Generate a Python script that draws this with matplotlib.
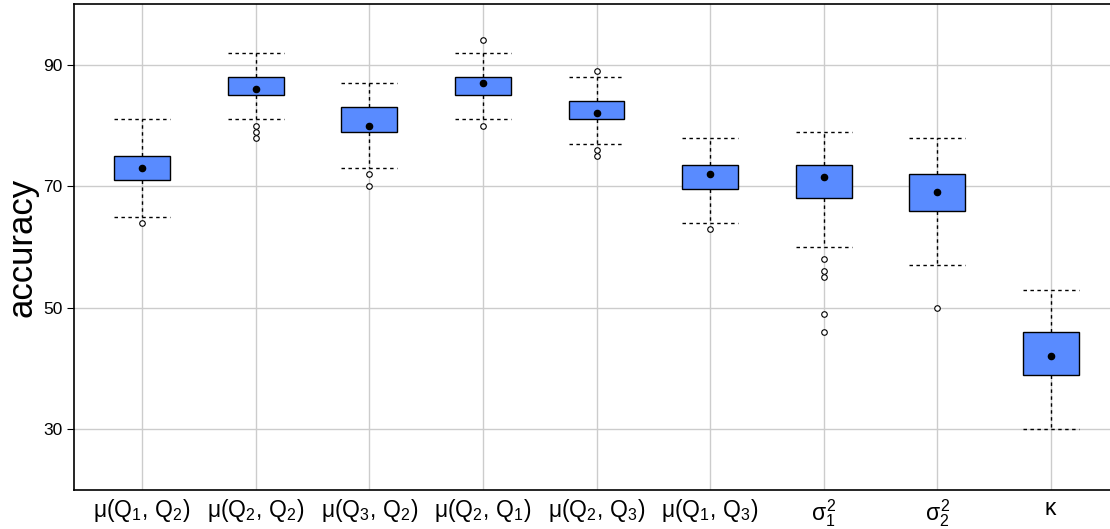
import matplotlib
matplotlib.use("Agg")
import matplotlib.pyplot as plt

plt.rcParams['font.family'] = ['Liberation Sans', 'DejaVu Sans']
plt.rcParams['mathtext.fontset'] = 'custom'
plt.rcParams['mathtext.rm'] = 'Liberation Sans'
plt.rcParams['mathtext.it'] = 'Liberation Sans'
plt.rcParams['mathtext.bf'] = 'Liberation Sans:bold'

labels = [r'$\mu(\mathrm{Q}_1,\,\mathrm{Q}_2)$', r'$\mu(\mathrm{Q}_2,\,\mathrm{Q}_2)$',
          r'$\mu(\mathrm{Q}_3,\,\mathrm{Q}_2)$', r'$\mu(\mathrm{Q}_2,\,\mathrm{Q}_1)$',
          r'$\mu(\mathrm{Q}_2,\,\mathrm{Q}_3)$', r'$\mu(\mathrm{Q}_1,\,\mathrm{Q}_3)$',
          r'$\sigma_1^2$', r'$\sigma_2^2$', r'$\kappa$']
whisker_low = [65, 81, 73, 81, 77, 64, 60, 57, 30]
q1 = [71, 85, 79, 85, 81, 69.5, 68, 66, 39]
median = [73, 86, 80, 87, 82, 72, 71.5, 69, 42]
q3 = [75, 88, 83, 88, 84, 73.5, 73.5, 72, 46]
whisker_high = [81, 92, 87, 92, 88, 78, 79, 78, 53]
outliers = [[64], [80, 79, 78], [72, 70], [94, 80], [89, 76, 75], [63],
            [58, 56, 55, 49, 46], [50], []]
yticks = [30, 50, 70, 90]

fig = plt.figure(figsize=(11.10, 5.29), dpi=100)
ax = fig.add_axes([74/1110, 1 - 490/529, 1045/1110, 486/529])

stats = []
for i in range(len(labels)):
    stats.append(dict(whislo=whisker_low[i], q1=q1[i], med=median[i], q3=q3[i],
                      whishi=whisker_high[i], fliers=outliers[i], label=labels[i]))

positions = list(range(1, len(labels) + 1))
ax.bxp(stats, positions=positions, widths=0.49, patch_artist=True,
       showfliers=True,
       boxprops=dict(facecolor='#598bff', edgecolor='black', linewidth=1.0),
       whiskerprops=dict(color='black', linestyle=(0, (2.5, 2.5)), linewidth=1.0),
       capprops=dict(color='black', linestyle=(0, (2.5, 2.5)), linewidth=1.0),
       capwidths=0.49,
       medianprops=dict(linestyle='none'),
       flierprops=dict(marker='o', markersize=4, markerfacecolor='white',
                       markeredgecolor='black', markeredgewidth=0.8),
       zorder=3)
ax.scatter(positions, median, s=20, color='black', zorder=4)

ax.set_xlim(0.4, 9.6)
ax.set_ylim(20, 100)
ax.set_yticks(yticks)
ax.set_xticks(positions)
ax.set_xticklabels(labels, fontsize=16.5)
ax.tick_params(axis='y', labelsize=12.5, length=5, width=0.8, direction='out')
ax.tick_params(axis='x', length=0, pad=5)
ax.grid(True, color='#cccccc', linewidth=1.0, zorder=0)
ax.set_axisbelow(True)
ax.set_ylabel('accuracy', fontsize=25, labelpad=3)
for s in ax.spines.values():
    s.set_linewidth(1.2)

fig.savefig('out.png', dpi=100)
